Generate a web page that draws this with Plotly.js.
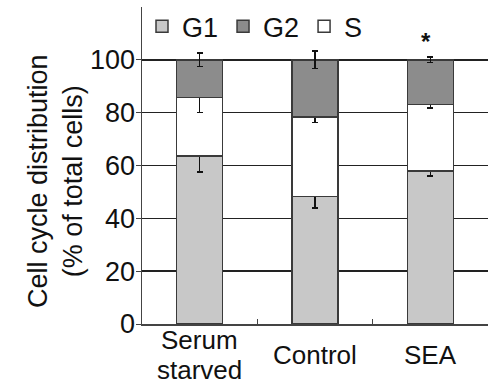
<!DOCTYPE html>
<html>
<head>
<meta charset="utf-8">
<script src="https://cdn.plot.ly/plotly-3.0.1.min.js"></script>
<style>html,body{margin:0;padding:0;background:#fff;}#chart{width:496px;height:385px;}</style>
</head>
<body>
<div id="chart"></div>
<script>
const categories = ["Serum starved", "Control", "SEA"];
const categoryLabelLines = [["Serum", "starved"], ["Control"], ["SEA"]];
const g1 = [63.6, 48.2, 58.0];
const g1Err = [6.0, 4.2, 2.0];
const s = [22.1, 30.1, 25.0];
const sErr = [5.7, 2.1, 1.3];
const g2 = [14.3, 21.7, 17.0];
const g2Err = [2.5, 3.3, 1.1];
const yTicks = [0, 20, 40, 60, 80, 100];
const sigMarks = ["", "", "*"];

const font = "'Liberation Sans', Arial, Helvetica, sans-serif";
const barLine = {color: "#3a3a3a", width: 1.5};
function errs(arr) {
  return {type: "data", array: arr, visible: true, color: "#111", thickness: 1.5, width: 3};
}

const traces = [
  {type: "bar", name: "G1", x: categories, y: g1, error_y: errs(g1Err),
   marker: {color: "#c8c8c8", line: barLine}, legendrank: 1},
  {type: "bar", name: "S", x: categories, y: s, error_y: errs(sErr),
   marker: {color: "#ffffff", line: barLine}, legendrank: 3},
  {type: "bar", name: "G2", x: categories, y: g2, error_y: errs(g2Err),
   marker: {color: "#8c8c8c", line: barLine}, legendrank: 2}
];

const plotH = 317;
const labelCenter = 31;   // px below the x axis
const lineStep = 30;      // px between label lines
const annotations = [];
categories.forEach((c, i) => {
  const lines = categoryLabelLines[i];
  lines.forEach((ln, k) => {
    const off = labelCenter + (k - (lines.length - 1) / 2) * lineStep;
    annotations.push({x: c, xref: "x", y: -off / plotH, yref: "paper", text: ln,
      showarrow: false, xanchor: "center", yanchor: "middle", borderpad: 0,
      font: {family: font, size: 26, color: "#111"}});
  });
  if (sigMarks[i]) {
    const top = g1[i] + s[i] + g2[i];
    annotations.push({x: c, xref: "x", y: top + 7, yref: "y", text: "<b>" + sigMarks[i] + "</b>", xshift: -4,
      showarrow: false, font: {family: font, size: 24, color: "#111"}});
  }
});
annotations.push({xref: "paper", yref: "paper", x: (56 - 142) / 346, y: (324 - 181) / 317,
  xanchor: "center", yanchor: "middle", textangle: -90, showarrow: false,
  text: "Cell cycle distribution<br>(% of total cells)",
  font: {family: font, size: 27, color: "#111"}});

const layout = {
  width: 496, height: 385,
  margin: {l: 142, r: 8, t: 7, b: 61, autoexpand: false},
  paper_bgcolor: "#fff", plot_bgcolor: "#fff",
  barmode: "stack", bargap: 0.6,
  font: {family: font, color: "#111"},
  showlegend: true,
  legend: {orientation: "h", x: 0.0, xanchor: "left", y: 1.015, yanchor: "top",
    font: {family: font, size: 27, color: "#111"}, bgcolor: "rgba(0,0,0,0)",
    traceorder: "normal"},
  xaxis: {type: "category", showticklabels: false, showline: true, linecolor: "#444", linewidth: 1.5,
    ticks: "inside", tickson: "boundaries", ticklen: 5, tickcolor: "#444", showgrid: false,
    zeroline: false, fixedrange: true, automargin: false},
  yaxis: {range: [0, 120], tickvals: yTicks, ticktext: yTicks.map(String), showline: true,
    linecolor: "#444", linewidth: 1.5, ticks: "outside", ticklen: 5, tickcolor: "#444",
    ticklabelstandoff: -5, automargin: false,
    showgrid: true, gridcolor: "#222", gridwidth: 1.5, zeroline: false,
    tickfont: {family: font, size: 27, color: "#111"}},
  annotations: annotations
};

Plotly.newPlot("chart", traces, layout, {displayModeBar: false, staticPlot: true});
</script>
</body>
</html>
